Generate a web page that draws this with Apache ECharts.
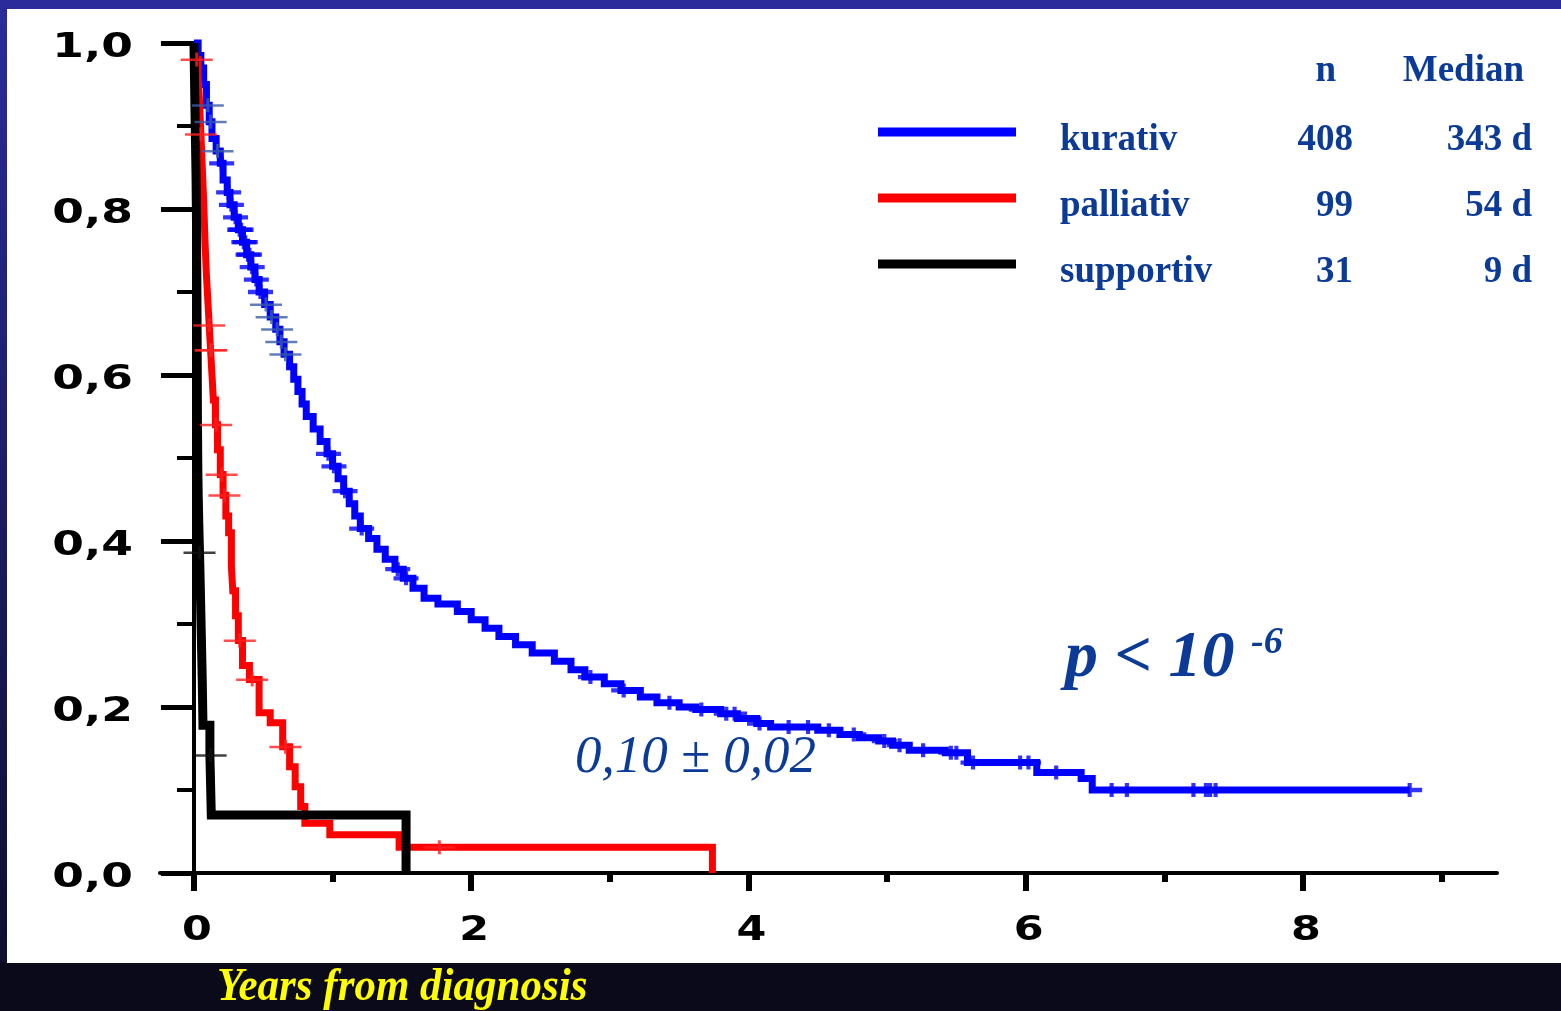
<!DOCTYPE html>
<html>
<head>
<meta charset="utf-8">
<title>Survival by treatment intent</title>
<script src="https://cdn.jsdelivr.net/npm/echarts@6/dist/echarts.min.js"></script>
<style>
  html, body { margin: 0; padding: 0; background: #ffffff; }
  #main { width: 1561px; height: 1011px; }
</style>
</head>
<body>
<div id="main"></div>
<script>
// ---------- data ----------
const groupNames = ['kurativ', 'palliativ', 'supportiv'];
const groupCounts = [408, 99, 31];
const groupMedians = ['343 d', '54 d', '9 d'];

// Kaplan-Meier estimates: [years from diagnosis, surviving fraction]
const kurativSurvival = [
  [0, 1.0], [0.03, 0.985], [0.05, 0.97], [0.07, 0.95], [0.09, 0.925], [0.11, 0.905],
  [0.13, 0.885], [0.16, 0.87], [0.19, 0.855], [0.21, 0.835], [0.24, 0.82], [0.26, 0.805],
  [0.29, 0.79], [0.32, 0.775], [0.35, 0.76], [0.38, 0.745], [0.41, 0.73], [0.44, 0.715],
  [0.47, 0.70], [0.51, 0.685], [0.55, 0.67], [0.59, 0.655], [0.62, 0.64], [0.65, 0.625],
  [0.69, 0.61], [0.72, 0.595], [0.75, 0.58], [0.78, 0.565], [0.81, 0.55], [0.86, 0.535],
  [0.91, 0.52], [0.96, 0.505], [1.00, 0.49], [1.04, 0.475], [1.08, 0.46], [1.12, 0.445],
  [1.16, 0.43], [1.20, 0.415], [1.26, 0.403], [1.32, 0.39], [1.38, 0.378], [1.45, 0.366],
  [1.51, 0.355], [1.58, 0.343], [1.66, 0.331], [1.76, 0.324], [1.90, 0.315], [2.00, 0.305],
  [2.10, 0.295], [2.20, 0.285], [2.32, 0.275], [2.44, 0.265], [2.60, 0.255], [2.72, 0.245],
  [2.82, 0.236], [2.96, 0.228], [3.08, 0.22], [3.22, 0.212], [3.34, 0.205], [3.50, 0.20],
  [3.62, 0.197], [3.80, 0.192], [3.92, 0.186], [4.06, 0.18], [4.16, 0.176], [4.50, 0.172],
  [4.66, 0.167], [4.80, 0.163], [4.94, 0.159], [5.04, 0.154], [5.16, 0.148], [5.42, 0.145],
  [5.58, 0.133], [6.08, 0.121], [6.40, 0.114], [6.48, 0.10], [8.77, 0.10]
];
const palliativSurvival = [
  [0, 1.0], [0.01, 0.98], [0.03, 0.96], [0.04, 0.93], [0.05, 0.89], [0.06, 0.85],
  [0.07, 0.81], [0.08, 0.76], [0.09, 0.72], [0.10, 0.69], [0.11, 0.66], [0.12, 0.63],
  [0.13, 0.60], [0.14, 0.57], [0.155, 0.54], [0.17, 0.51], [0.19, 0.48], [0.21, 0.455],
  [0.23, 0.43], [0.25, 0.41], [0.27, 0.37], [0.28, 0.34], [0.30, 0.31], [0.32, 0.28],
  [0.35, 0.25], [0.40, 0.233], [0.47, 0.193], [0.55, 0.181], [0.64, 0.152], [0.69, 0.128],
  [0.73, 0.104], [0.77, 0.08], [0.80, 0.06], [0.98, 0.046], [1.48, 0.031], [3.74, 0]
];
const supportivSurvival = [
  [0, 1.0], [0.003, 0.968], [0.006, 0.935], [0.009, 0.903], [0.012, 0.871], [0.015, 0.839],
  [0.017, 0.806], [0.019, 0.774], [0.021, 0.71], [0.023, 0.645], [0.025, 0.548], [0.028, 0.484],
  [0.031, 0.452], [0.035, 0.419], [0.04, 0.386], [0.045, 0.35], [0.05, 0.31], [0.055, 0.27],
  [0.06, 0.23], [0.065, 0.178], [0.115, 0.142], [0.125, 0.07], [1.53, 0]
];

// censoring times (years)
const kurativCensorEarly = [0.10, 0.12, 0.17, 0.52, 0.56, 0.60, 0.63, 0.66];
const kurativCensor = [
  0.20, 0.25, 0.27, 0.30, 0.33, 0.34, 0.36, 0.37, 0.39, 0.40, 0.42, 0.45, 0.48,
  0.97, 1.01, 1.09, 1.21, 1.47, 1.53, 2.86, 3.10, 3.43, 3.66, 3.84, 3.90, 4.08,
  4.29, 4.43, 4.58, 4.76, 4.98, 5.09, 5.26, 5.46, 5.50, 5.62, 5.96, 6.02, 6.22,
  6.62, 6.73, 7.21, 7.30, 7.33, 7.37, 8.77
];
const palliativCensor = [0.02, 0.05, 0.11, 0.12, 0.125, 0.16, 0.20, 0.22, 0.33, 0.42, 0.66, 1.77];
const supportivCensor = [0.04, 0.12];

const xTickValues = [0, 2, 4, 6, 8];
const xTickLabels = ['0', '2', '4', '6', '8'];
const xMinorTickValues = [1, 3, 5, 7, 9];
const yTickValues = [0, 0.2, 0.4, 0.6, 0.8, 1.0];
const yTickLabels = ['0,0', '0,2', '0,4', '0,6', '0,8', '1,0'];

const tableHeader = ['n', 'Median'];
const plateauLabel = '0,10 \u00b1 0,02';
const pValueParts = ['p < 10 ', '-6'];
const xAxisTitle = 'Years from diagnosis';

// ---------- helpers ----------
function survivalAt(curve, t) {
  let s = curve[0][1];
  for (const [ti, si] of curve) {
    if (ti <= t) s = si; else break;
  }
  return s;
}
function censorPoints(curve, times) {
  return times.map(t => [t, survivalAt(curve, t)]);
}

const NAVY = '#0b3b96';
const BLUE = '#0000ff';
const RED = '#ff0000';
const BLACK = '#000000';

// "+" censor marks
const plusThick = 'path://M0,4.5H24V8.5H0Z M10,0H14V13H10Z';
const plusThin = 'path://M0,6H32V8.5H0Z M14.5,0H17.5V14H14.5Z';

function kmLine(name, data, color, width) {
  return {
    type: 'line', name, data, step: 'end', symbol: 'none', clip: false,
    color, lineStyle: { color, width, cap: 'butt', join: 'miter' },
    itemStyle: { color }, emphasis: { disabled: true }, z: 3, silent: true
  };
}
function censorMarks(name, data, color, symbol, size) {
  return {
    type: 'scatter', name, data, symbol, symbolSize: size, symbolKeepAspect: false,
    itemStyle: { color }, emphasis: { disabled: true }, z: 5, silent: true, clip: false
  };
}

const legendFont = { fontFamily: 'Liberation Serif', fontWeight: 'bold', fontSize: 37, color: NAVY, lineHeight: 40 };

const chart = echarts.init(document.getElementById('main'), null, { renderer: 'canvas', width: 1561, height: 1011 });

chart.setOption({
  animation: false,
  backgroundColor: '#ffffff',
  grid: { left: 160, top: 43, width: 1337, height: 830, containLabel: false, outerBoundsMode: 'none' },
  xAxis: [
    {
      type: 'value', min: -0.245, max: 9.4, position: 'bottom',
      axisLine: { show: true, onZero: true, lineStyle: { color: BLACK, width: 4 } },
      axisTick: { show: true, customValues: xTickValues, length: 18, lineStyle: { color: BLACK, width: 6 } },
      axisLabel: { show: false }, splitLine: { show: false }
    },
    {
      type: 'value', min: -0.245, max: 9.4, position: 'bottom',
      axisLine: { show: false },
      axisTick: { show: true, customValues: xMinorTickValues, length: 9, lineStyle: { color: BLACK, width: 6 } },
      axisLabel: { show: false }, splitLine: { show: false }
    }
  ],
  yAxis: {
    type: 'value', min: 0, max: 1, interval: 0.2,
    axisLine: { show: true, onZero: true, lineStyle: { color: BLACK, width: 4 } },
    axisTick: { show: true, length: 33, lineStyle: { color: BLACK, width: 5 } },
    minorTick: { show: true, splitNumber: 2, length: 17, lineStyle: { color: BLACK, width: 4 } },
    axisLabel: { show: false }, splitLine: { show: false }, minorSplitLine: { show: false }
  },
  legend: {
    data: groupNames, orient: 'vertical', left: 878, top: 104, padding: 0,
    itemGap: 10, itemWidth: 138, itemHeight: 9, icon: 'rect', selectedMode: false,
    itemStyle: { borderWidth: 0 },
    textStyle: Object.assign({ padding: [16, 0, 0, 0] }, legendFont, {
      rich: {
        sp: { width: 39 },
        nm: Object.assign({ width: 200 }, legendFont),
        n: Object.assign({ width: 93, align: 'right' }, legendFont),
        md: Object.assign({ width: 179, align: 'right' }, legendFont)
      }
    }),
    formatter: name => {
      const i = groupNames.indexOf(name);
      return `{sp|}{nm|${name}}{n|${groupCounts[i]}}{md|${groupMedians[i]}}`;
    }
  },
  series: [
    kmLine(groupNames[0], kurativSurvival, BLUE, 7),
    kmLine(groupNames[1], palliativSurvival, RED, 7),
    kmLine(groupNames[2], supportivSurvival, BLACK, 9),
    censorMarks('kurativ censored', censorPoints(kurativSurvival, kurativCensor), BLUE, plusThick, [25, 14]),
    censorMarks('kurativ censored (early)', censorPoints(kurativSurvival, kurativCensorEarly), '#3a5ca8', plusThin, [32, 14]),
    censorMarks('palliativ censored', censorPoints(palliativSurvival, palliativCensor), '#ff2020', plusThin, [32, 14]),
    censorMarks('supportiv censored', censorPoints(supportivSurvival, supportivCensor), '#111111', plusThin, [32, 14])
  ]
});

// ---------- frame, annotations and tick labels ----------
const toPx = (x, y) => chart.convertToPixel({ gridIndex: 0 }, [x, y]);

const tickFont = { fontFamily: 'DejaVu Sans', fontWeight: 'bold', fontSize: 33, fill: BLACK };
const graphics = [
  { type: 'rect', shape: { x: 0, y: 0, width: 1561, height: 9 }, style: { fill: '#2b2b9b' }, z: 10 },
  {
    type: 'rect', shape: { x: 0, y: 0, width: 7, height: 963 }, z: 10,
    style: { fill: new echarts.graphic.LinearGradient(0, 0, 0, 1, [
      { offset: 0, color: '#2b2b9b' }, { offset: 1, color: '#0e0e2e' }
    ]) }
  },
  { type: 'rect', shape: { x: 0, y: 963, width: 1561, height: 48 }, style: { fill: '#0a0a1a' }, z: 10 },
  {
    type: 'text', x: 217, y: 988, scaleX: 0.935, z: 11,
    style: { text: xAxisTitle, fontFamily: 'Liberation Serif', fontWeight: 'bold', fontStyle: 'italic',
      fontSize: 46, fill: '#ffff00', align: 'left', verticalAlign: 'middle' }
  },
  {
    type: 'text', x: 1336, y: 71, z: 11,
    style: { text: tableHeader[0], fontFamily: 'Liberation Serif', fontWeight: 'bold', fontSize: 37,
      fill: NAVY, align: 'right', verticalAlign: 'middle' }
  },
  {
    type: 'text', x: 1524, y: 71, z: 11,
    style: { text: tableHeader[1], fontFamily: 'Liberation Serif', fontWeight: 'bold', fontSize: 37,
      fill: NAVY, align: 'right', verticalAlign: 'middle' }
  },
  {
    type: 'text', x: 575, y: 758, z: 11,
    style: { text: plateauLabel, fontFamily: 'Liberation Serif', fontStyle: 'italic', fontSize: 53,
      fill: NAVY, align: 'left', verticalAlign: 'middle' }
  },
  {
    type: 'text', x: 1065, y: 624, z: 11,
    style: {
      text: `{a|${pValueParts[0]}}{b|${pValueParts[1]}}`, align: 'left', verticalAlign: 'top',
      rich: {
        a: { fontFamily: 'Liberation Serif', fontWeight: 'bold', fontStyle: 'italic', fontSize: 66, lineHeight: 70, fill: NAVY, color: NAVY },
        b: { fontFamily: 'Liberation Serif', fontWeight: 'bold', fontStyle: 'italic', fontSize: 38, lineHeight: 46, verticalAlign: 'top', fill: NAVY, color: NAVY }
      }
    }
  }
];

yTickValues.forEach((v, i) => {
  const py = toPx(0, v)[1];
  graphics.push({
    type: 'text', x: 133, y: py + 5, scaleX: 1.38, z: 11,
    style: Object.assign({ text: yTickLabels[i], align: 'right', verticalAlign: 'middle' }, tickFont)
  });
});
xTickValues.forEach((v, i) => {
  const px = toPx(v, 0)[0];
  graphics.push({
    type: 'text', x: px + 3, y: 931, scaleX: 1.3, z: 11,
    style: Object.assign({ text: xTickLabels[i], align: 'center', verticalAlign: 'middle' }, tickFont)
  });
});

chart.setOption({ graphic: graphics });
</script>
</body>
</html>
